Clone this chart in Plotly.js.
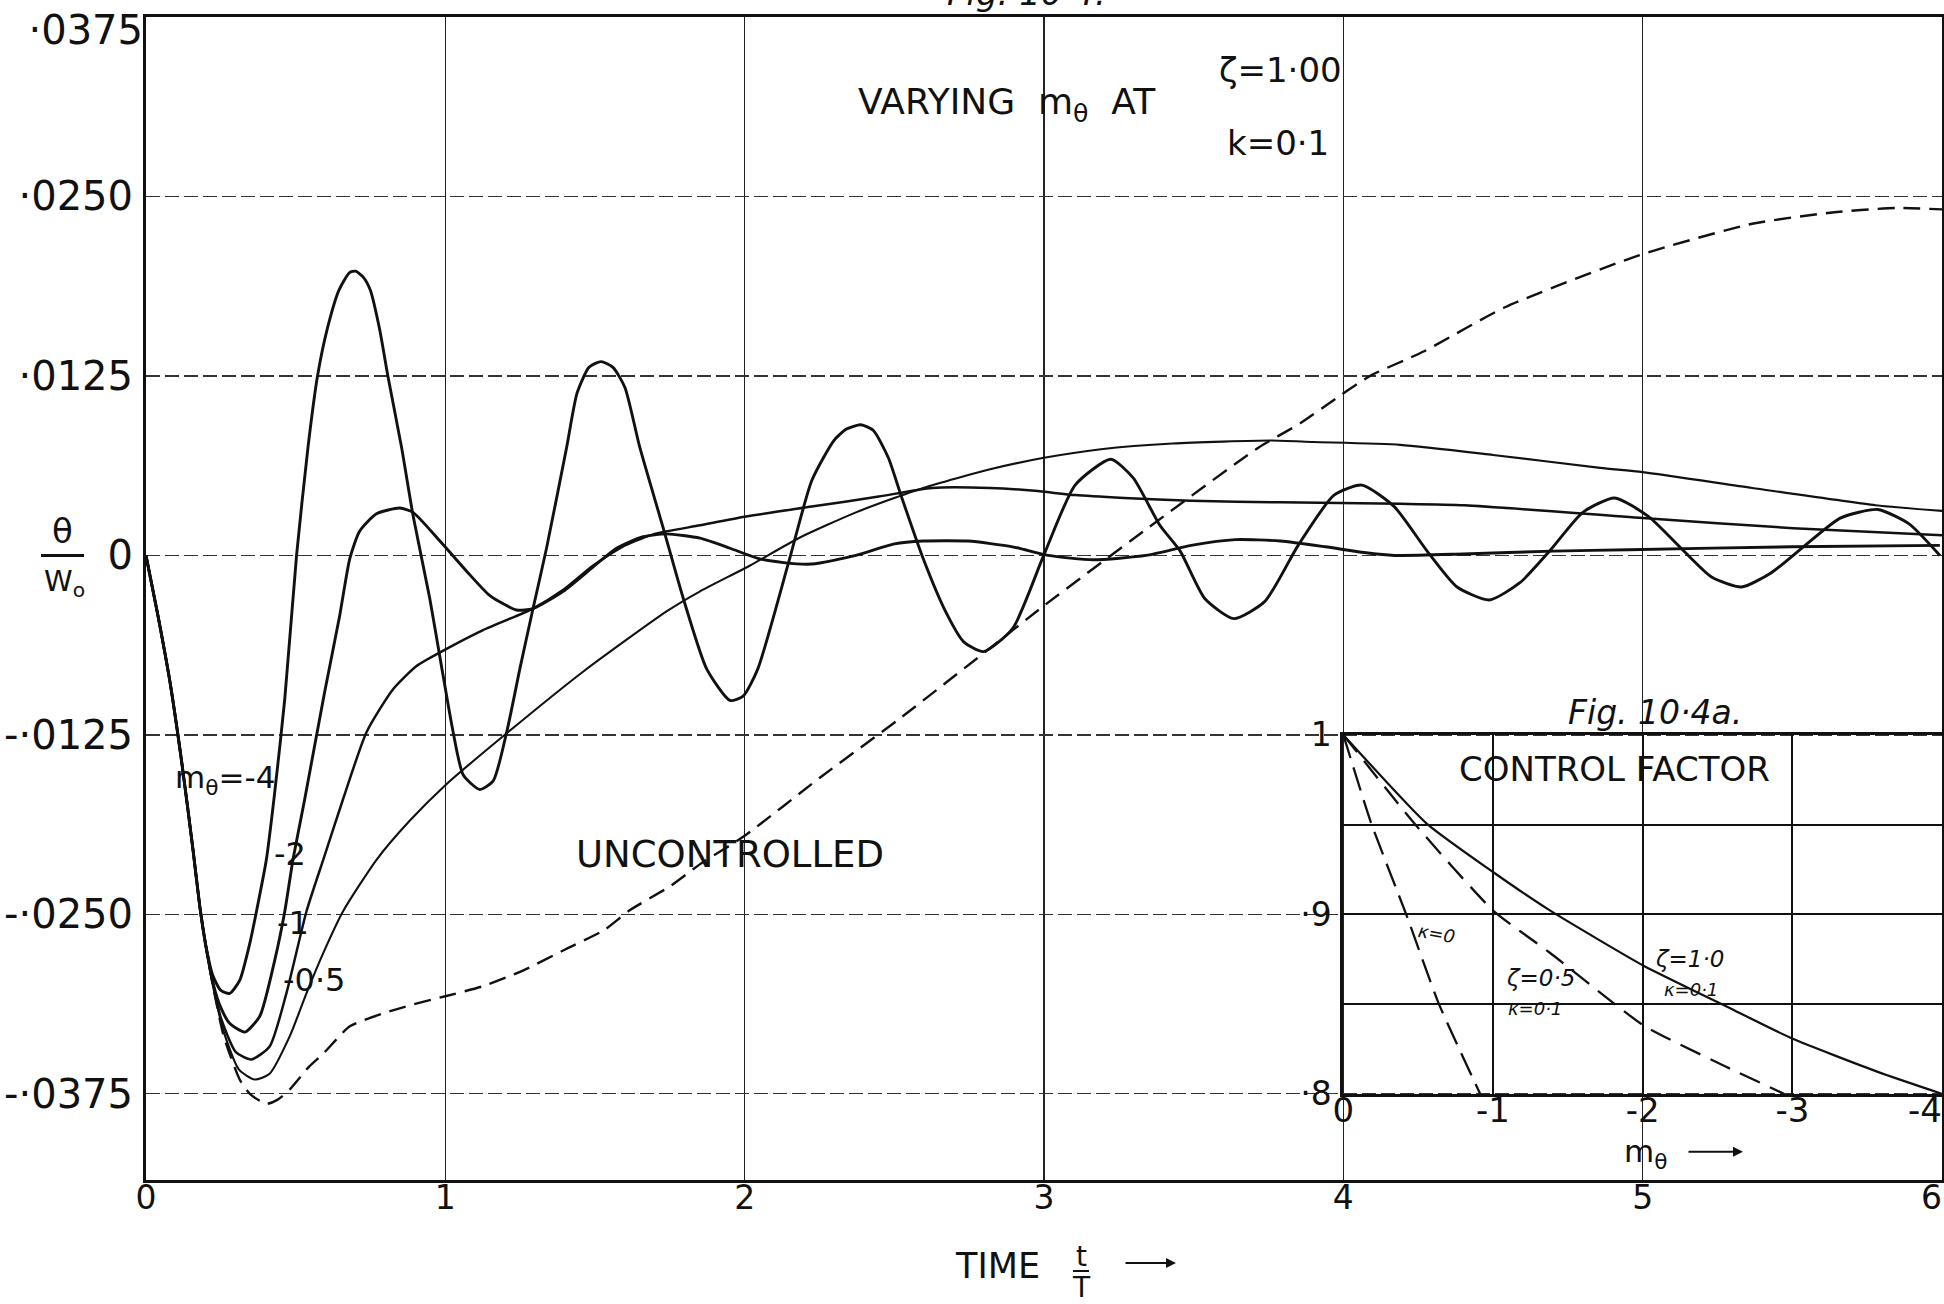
<!DOCTYPE html>
<html>
<head>
<meta charset="utf-8">
<script src="https://cdn.plot.ly/plotly-3.0.1.min.js"></script>
<style>html,body{margin:0;padding:0;background:#fff;}#chart{width:1944px;height:1304px;}</style>
</head>
<body>
<div id="chart"></div>
<script>
// ---------- main chart data (time t/T, theta/W0) ----------
const tM4 = [0,0.04,0.08,0.12,0.157,0.18,0.2,0.224,0.25,0.28,0.313,0.347,0.369,0.402,0.43,0.4636,0.503,0.541,0.573,0.607,0.645,0.68,0.70,0.725,0.749,0.78,0.808,0.854,0.892,0.948,0.987,1.026,1.06,1.115,1.16,1.205,1.25,1.293,1.338,1.405,1.44,1.48,1.52,1.56,1.60,1.65,1.728,1.795,1.873,1.951,1.995,2.044,2.148,2.224,2.298,2.34,2.388,2.43,2.48,2.522,2.596,2.671,2.731,2.798,2.895,2.999,3.104,3.223,3.298,3.387,3.455,3.537,3.634,3.738,3.849,3.969,4.062,4.17,4.28,4.38,4.488,4.59,4.693,4.8,4.906,5.02,5.133,5.23,5.33,5.43,5.537,5.66,5.785,5.89,5.993];
const yM4 = [0,-0.0042,-0.0088,-0.0145,-0.0205,-0.0245,-0.0272,-0.0293,-0.0303,-0.0305,-0.0296,-0.027,-0.0248,-0.0212,-0.0165,-0.0100,0.0,0.0075,0.0125,0.0159,0.0185,0.0197,0.0198,0.0194,0.0185,0.0158,0.0125,0.0075,0.0028,-0.0030,-0.0077,-0.0123,-0.0153,-0.0163,-0.0157,-0.0123,-0.0078,-0.0037,0.0005,0.0075,0.0113,0.0131,0.0135,0.0131,0.0117,0.0075,0.0019,-0.0030,-0.0079,-0.0101,-0.0098,-0.0079,-0.0004,0.0052,0.0080,0.0088,0.0091,0.0087,0.0068,0.0042,-0.0002,-0.0039,-0.0060,-0.0067,-0.0051,0.0,0.0049,0.0067,0.0054,0.0021,0.0003,-0.0030,-0.0044,-0.0032,0.0007,0.0042,0.0049,0.0034,0.0003,-0.0022,-0.0031,-0.0019,0.0004,0.0030,0.0040,0.0027,0.0004,-0.0015,-0.0022,-0.0012,0.0006,0.0026,0.0032,0.0022,0.0];

const tM2 = [0,0.04,0.08,0.12,0.157,0.18,0.2,0.224,0.25,0.28,0.33,0.38,0.43,0.4636,0.491,0.53,0.597,0.647,0.681,0.714,0.77,0.848,0.892,0.982,1.071,1.149,1.238,1.293,1.394,1.494,1.572,1.661,1.739,1.851,1.951,2.044,2.13,2.224,2.372,2.5,2.596,2.746,2.895,3.014,3.164,3.341,3.492,3.64,3.79,3.94,4.07,4.17,4.4,4.7,4.954,5.5,5.993];
const yM2 = [0,-0.0042,-0.0088,-0.0145,-0.0205,-0.0245,-0.0272,-0.0298,-0.0315,-0.0326,-0.0332,-0.0321,-0.0282,-0.0248,-0.0212,-0.0170,-0.0095,-0.0042,-0.0002,0.0017,0.0029,0.0033,0.0030,0.0010,-0.0011,-0.0028,-0.0038,-0.0037,-0.0025,-0.0008,0.0005,0.0013,0.0015,0.0012,0.0005,-0.0002,-0.0005,-0.0006,0.0,0.0008,0.0010,0.0010,0.0006,0.0,-0.0003,0.0,0.0007,0.0011,0.0010,0.0006,0.0002,0.0,0.0001,0.0003,0.0004,0.0006,0.0007];

const tM1 = [0,0.04,0.08,0.12,0.157,0.18,0.2,0.224,0.25,0.3,0.352,0.413,0.469,0.536,0.592,0.658,0.737,0.826,0.904,0.987,1.126,1.293,1.394,1.494,1.6,1.7,1.851,2.0,2.224,2.448,2.626,2.82,2.97,3.104,3.268,3.49,3.79,4.19,4.405,5.0,5.503,6.0];
const yM1 = [0,-0.0042,-0.0088,-0.0145,-0.0205,-0.0245,-0.0272,-0.0298,-0.0322,-0.0346,-0.0351,-0.0342,-0.0305,-0.0248,-0.0212,-0.0170,-0.0123,-0.0093,-0.0077,-0.0067,-0.0052,-0.0037,-0.0024,-0.0007,0.0007,0.0015,0.0021,0.0027,0.0034,0.0041,0.0047,0.0047,0.0045,0.0042,0.0040,0.0038,0.0037,0.0036,0.0035,0.0026,0.0019,0.0014];

const tM05 = [0,0.04,0.08,0.12,0.157,0.18,0.2,0.224,0.26,0.31,0.363,0.413,0.48,0.536,0.592,0.658,0.77,0.88,1.0,1.21,1.46,1.739,1.851,2.018,2.18,2.372,2.596,2.82,3.0,3.19,3.43,3.76,3.9,4.19,4.5,4.858,5.0,5.366,5.778,6.0];
const yM05 = [0,-0.0042,-0.0088,-0.0145,-0.0205,-0.0245,-0.0272,-0.0300,-0.0332,-0.0358,-0.0365,-0.0361,-0.0335,-0.0305,-0.0277,-0.0248,-0.0212,-0.0185,-0.0160,-0.0123,-0.0081,-0.0039,-0.0025,-0.0007,0.0012,0.0030,0.0047,0.0060,0.0068,0.0074,0.0078,0.0080,0.0079,0.0077,0.0070,0.0061,0.0058,0.0047,0.0035,0.0031];

const tUnc = [0,0.04,0.08,0.12,0.157,0.18,0.2,0.224,0.26,0.313,0.347,0.402,0.44,0.48,0.545,0.592,0.681,0.792,0.888,1.0,1.126,1.261,1.395,1.53,1.617,1.754,1.851,1.995,2.25,2.522,2.805,3.0,3.34,3.716,3.856,3.98,4.089,4.268,4.542,4.988,5.366,5.64,5.846,6.0];
const yUnc = [0,-0.0042,-0.0088,-0.0145,-0.0205,-0.0245,-0.0272,-0.0300,-0.0335,-0.0365,-0.0375,-0.0382,-0.0379,-0.0372,-0.0356,-0.0347,-0.0328,-0.0319,-0.0313,-0.0307,-0.0300,-0.0289,-0.0275,-0.0261,-0.0247,-0.0230,-0.0215,-0.0196,-0.0155,-0.0113,-0.0067,-0.0035,0.0018,0.0075,0.0092,0.0110,0.0125,0.0142,0.0173,0.0209,0.0231,0.0239,0.0242,0.0241];

// tick labels; the ones at the top / right edges sit on companion axes so they can be
// placed inside the picture (below the tick / left of the tick)
const xTickVals = [0,1,2,3,4,5];
const xTickText = ['0','1','2','3','4','5'];
const xEdgeTickVals = [6];
const xEdgeTickText = ['6'];
const yTickVals = [0.025,0.0125,0,-0.0125,-0.025,-0.0375];
const yTickText = ['·0250','·0125','0','-·0125','-·0250','-·0375'];
const yEdgeTickVals = [0.0375];
const yEdgeTickText = ['·0375'];

// ---------- inset (Fig. 10.4a) data: control factor vs m_theta ----------
const mZeta10 = [0,-0.557,-1.0,-1.38,-2.006,-2.614,-2.999,-3.575,-4.0];
const cZeta10 = [1.0,0.9506,0.9236,0.9022,0.8714,0.8465,0.8308,0.8121,0.8];
const mZeta05 = [0,-0.475,-1.0,-1.38,-2.006,-2.477,-2.944];
const cZeta05 = [1.0,0.9506,0.9022,0.8786,0.8381,0.8183,0.8];
const mKappa0 = [0,-0.187,-0.42,-0.639,-0.914];
const cKappa0 = [1.0,0.9506,0.9,0.85,0.8];
const insetXTickVals = [0,-1,-2,-3];
const insetXTickText = ['0','-1','-2','-3'];
const insetXEdgeTickVals = [-4];
const insetXEdgeTickText = ['-4'];
const insetYTickVals = [0.8,0.9,1.0];
const insetYTickText = ['·8','·9','1'];

const FONT = 'DejaVu Sans, Liberation Sans, sans-serif';
const INK = '#111';

const W = 1944, H = 1304, ML = 146, MR = 2, MT = 17, MB = 124;
const plotW = W - ML - MR, plotH = H - MT - MB;
const px = X => (X - ML) / plotW;          // pixel column -> paper x
const py = Y => (H - MB - Y) / plotH;      // pixel row -> paper y

const xMainRange = [0, 6];
const yMainRange = [-0.0435, 0.0375];
const xInsetRange = [0, -4];
const yInsetRange = [0.8, 1.0];
const ydom = v => (v - yMainRange[0]) / (yMainRange[1] - yMainRange[0]);
const insetDomX = [4/6, 1];
const insetDomY = [ydom(-0.0375), ydom(-0.0125)];
const insetTopY = H - MB - insetDomY[1] * plotH;
const insetBotY = H - MB - insetDomY[0] * plotH;

function line(x, y, xa, ya, w, dash, sm) {
  return {type:'scatter', mode:'lines', x:x, y:y, xaxis:xa, yaxis:ya,
    line:{color:INK, width:w, shape:'spline', smoothing:sm, dash:dash||'solid'}, hoverinfo:'skip'};
}

const traces = [
  line(tUnc, yUnc, 'x3', 'y3', 2.4, '17px,9px', 0.6),
  line(tM05, yM05, 'x', 'y', 2.1, null, 0.6),
  line(tM1, yM1, 'x', 'y', 2.5, null, 0.6),
  line(tM2, yM2, 'x', 'y', 2.9, null, 0.6),
  line(tM4, yM4, 'x', 'y', 2.9, null, 0.6),
  line(mZeta10, cZeta10, 'x2', 'y2', 2.2, null, 0.5),
  line(mZeta05, cZeta05, 'x2', 'y2', 2.3, '22px,11px', 0.5),
  line(mKappa0, cKappa0, 'x4', 'y4', 2.3, '24px,10px', 0.5)
];

function ann(text, x, y, size, opts) {
  return Object.assign({text:text, x:x, y:y, xref:'x', yref:'y', showarrow:false,
    font:{family:FONT, size:size, color:INK}, xanchor:'center', yanchor:'middle'}, opts||{});
}
function hand(size) { return {family:FONT, size:size, color:INK, style:'italic'}; }
const P = {xref:'paper', yref:'paper'};

const annotations = [
  ann('VARYING  m<sub>θ</sub>  AT', 2.876, 0.0314, 36),
  ann('ζ=1·00', 3.79, 0.0338, 34),
  ann('k=0·1', 3.782, 0.0287, 34),
  ann('m<sub>θ</sub>=-4', 0.263, -0.0156, 31),
  ann('-2', 0.482, -0.0208, 32),
  ann('-1', 0.49, -0.0256, 32),
  ann('-0·5', 0.56, -0.0296, 32),
  ann('UNCONTROLLED', 1.95, -0.0208, 37),
  ann('Fig. 10·4.', px(1026), py(-7), 34, Object.assign({font:hand(34)}, P)),
  // y-axis title theta / W0
  ann('θ', px(62), 0.0017, 34, {xref:'paper'}),
  ann('W<sub>o</sub>', px(64), -0.0019, 29, {xref:'paper'}),
  // x-axis title TIME t/T ->
  ann('TIME', px(997), py(1266), 35, P),
  ann('t', px(1081), py(1256), 28, P),
  ann('T', px(1081), py(1287), 28, P),
  {x:px(1176), y:py(1263), xref:'paper', yref:'paper', ax:-52, ay:0, axref:'pixel', ayref:'pixel',
    text:'', showarrow:true, arrowhead:2, arrowsize:1, arrowwidth:2, arrowcolor:INK},
  // inset texts
  ann('Fig. 10·4a.', px(1655), py(insetTopY - 22), 33, Object.assign({font:hand(33)}, P)),
  ann('CONTROL FACTOR', -1.81, 0.9809, 34, {xref:'x2', yref:'y2'}),
  ann('κ=0', -0.62, 0.8893, 18, {xref:'x2', yref:'y2', font:hand(18), textangle:10}),
  ann('ζ=0·5', -1.315, 0.8646, 23, {xref:'x2', yref:'y2', font:hand(23)}),
  ann('κ=0·1', -1.28, 0.8478, 18, {xref:'x2', yref:'y2', font:hand(18)}),
  ann('ζ=1·0', -2.31, 0.8753, 23, {xref:'x2', yref:'y2', font:hand(23)}),
  ann('κ=0·1', -2.32, 0.8584, 18, {xref:'x2', yref:'y2', font:hand(18)}),
  ann('m<sub>θ</sub>', px(1645), py(insetBotY + 60), 31, P),
  {x:px(1743), y:py(insetBotY + 58), xref:'paper', yref:'paper', ax:-56, ay:0, axref:'pixel', ayref:'pixel',
    text:'', showarrow:true, arrowhead:2, arrowsize:1, arrowwidth:2, arrowcolor:INK}
];

const shapes = [
  // fraction bar of theta / W0
  {type:'line', xref:'paper', yref:'y', x0:px(41), x1:px(84), y0:0.0, y1:0.0, line:{color:INK, width:3}},
  // fraction bar of t / T
  {type:'line', xref:'paper', yref:'paper', x0:px(1073), x1:px(1089), y0:py(1271), y1:py(1271), line:{color:INK, width:2}}
];

const baseAx = {zeroline:false, ticks:'', linecolor:INK};
const layout = {
  width:W, height:H,
  margin:{l:ML, r:MR, t:MT, b:MB, pad:0},
  paper_bgcolor:'#fff', plot_bgcolor:'rgba(0,0,0,0)',
  showlegend:false,
  font:{family:FONT, color:INK},
  xaxis:Object.assign({}, baseAx, {domain:[0,1], range:xMainRange, tickvals:xTickVals, ticktext:xTickText,
    showgrid:true, gridcolor:'#222', gridwidth:1.4,
    showline:true, mirror:true, linewidth:3,
    tickfont:{family:FONT, size:33, color:INK}, ticklabelstandoff:-14}),
  yaxis:Object.assign({}, baseAx, {domain:[0,1], range:yMainRange, tickvals:yTickVals, ticktext:yTickText,
    showgrid:true, gridcolor:'#333', gridwidth:1.3, griddash:'14px,5px',
    showline:true, mirror:true, linewidth:3,
    tickfont:{family:FONT, size:40, color:INK}, ticklabelstandoff:2}),
  // companion axes carrying the edge labels "6" and "·0375"
  xaxis3:Object.assign({}, baseAx, {overlaying:'x', anchor:'y3', range:xMainRange,
    tickvals:xEdgeTickVals, ticktext:xEdgeTickText, ticklabelposition:'outside left',
    showgrid:false, showline:false, tickfont:{family:FONT, size:33, color:INK}, ticklabelstandoff:-5}),
  yaxis3:Object.assign({}, baseAx, {overlaying:'y', anchor:'x3', side:'left', range:yMainRange,
    tickvals:yEdgeTickVals, ticktext:yEdgeTickText, ticklabelposition:'outside bottom',
    showgrid:false, showline:false, tickfont:{family:FONT, size:40, color:INK},
    ticklabelstandoff:2, ticklabelshift:-15}),
  xaxis2:Object.assign({}, baseAx, {anchor:'y2', domain:insetDomX, range:xInsetRange,
    tickvals:insetXTickVals, ticktext:insetXTickText,
    showgrid:true, gridcolor:INK, gridwidth:2,
    showline:true, mirror:true, linewidth:3,
    tickfont:{family:FONT, size:34, color:INK}, ticklabelstandoff:-16}),
  yaxis2:Object.assign({}, baseAx, {anchor:'x2', domain:insetDomY, range:yInsetRange,
    tickvals:insetYTickVals, ticktext:insetYTickText,
    showgrid:true, gridcolor:INK, gridwidth:2,
    minor:{dtick:0.05, tick0:0.8, showgrid:true, gridcolor:INK, gridwidth:2, ticks:''},
    showline:true, mirror:true, linewidth:3,
    tickfont:{family:FONT, size:33, color:INK}, ticklabelstandoff:2}),
  xaxis4:Object.assign({}, baseAx, {overlaying:'x2', anchor:'y4', range:xInsetRange,
    tickvals:insetXEdgeTickVals, ticktext:insetXEdgeTickText, ticklabelposition:'outside left',
    showgrid:false, showline:false, tickfont:{family:FONT, size:34, color:INK}, ticklabelstandoff:-7}),
  yaxis4:Object.assign({}, baseAx, {overlaying:'y2', anchor:'x4', range:yInsetRange,
    showticklabels:false, showgrid:false, showline:false}),
  annotations:annotations,
  shapes:shapes
};

Plotly.newPlot('chart', traces, layout, {staticPlot:true, displayModeBar:false});
</script>
</body>
</html>
